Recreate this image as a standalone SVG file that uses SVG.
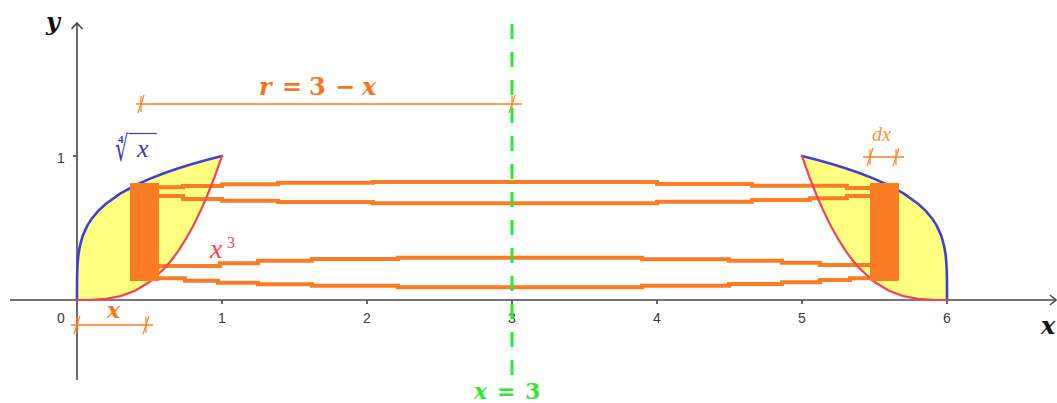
<svg xmlns="http://www.w3.org/2000/svg" xmlns:xlink="http://www.w3.org/1999/xlink" width="1057" height="403" viewBox="0 0 1057 403">
<style>
.axis{stroke:#474747;stroke-width:1.6;fill:none}
.num{font-family:"Liberation Sans",Arial,sans-serif;font-size:14px;fill:#3a3a3a;text-anchor:middle}
.blue{stroke:#4040d6;stroke-width:2.6;fill:none;stroke-linejoin:round;stroke-linecap:round}
.red{stroke:#f04454;stroke-width:2.2;fill:none;stroke-linejoin:round;stroke-linecap:round}
.fill{fill:#ffff80;stroke:none}
.band{stroke:#fb7d23;stroke-width:4;fill:none;stroke-linejoin:miter}
.rect{fill:#fb7d23}
.dim{stroke:#f7821f;stroke-width:1.4;fill:none}
.tk{stroke:#f7821f;stroke-width:1.2;fill:none}
.lbl{font-family:"DejaVu Serif","Liberation Serif",serif;font-weight:bold}
.it{font-style:italic}
.math{font-family:"Liberation Serif","Times New Roman",serif}
</style>
<defs>
<g id="tick">
<line class="tk" x1="0" y1="-8" x2="0" y2="8"/>
<line class="tk" x1="-3" y1="9" x2="3" y2="-9"/>
</g>
<g id="region">
<path class="fill" d="M77,300 L77.01,291.9 L77.01,285.6 L77.07,278.5 L77.29,269.5 L77.73,261.7 L78.45,254.5 L79.9,245.8 L82.8,235.6 L87.15,225.9 L91.5,219 L98.75,210.4 L106,203.7 L120.5,193.4 L135,185.5 L149.5,178.9 L164,173.3 L178.5,168.3 L193,163.8 L207.5,159.7 L222,156 L214.75,176.6 L207.5,195 L200.25,211.6 L193,226.3 L185.75,239.2 L178.5,250.6 L171.25,260.5 L164,268.9 L149.5,282 L135,290.8 L120.5,296.1 L106,298.85 L91.5,299.86 Z"/>
</g>
<g id="curves">
<path class="blue" d="M77,300 L77.01,291.9 L77.01,285.6 L77.07,278.5 L77.29,269.5 L77.73,261.7 L78.45,254.5 L79.9,245.8 L82.8,235.6 L87.15,225.9 L91.5,219 L98.75,210.4 L106,203.7 L120.5,193.4 L135,185.5 L149.5,178.9 L164,173.3 L178.5,168.3 L193,163.8 L207.5,159.7 L222,156"/>
<path class="red" d="M77,300 L91.5,299.86 L106,298.85 L120.5,296.1 L135,290.8 L149.5,282 L164,268.9 L171.25,260.5 L178.5,250.6 L185.75,239.2 L193,226.3 L200.25,211.6 L207.5,195 L214.75,176.6 L222,156"/>
</g>
</defs>

<g id="axes">
<line class="axis" x1="10" y1="300" x2="1056" y2="300"/>
<polyline class="axis" points="1050,295 1056,300 1050,305"/>
<line class="axis" x1="77" y1="380" x2="77" y2="23"/>
<polyline class="axis" points="71.5,29 77,23 82.5,29"/>
<line class="axis" x1="73" y1="156" x2="77" y2="156"/>
<g class="axis">
<line x1="222" y1="300" x2="222" y2="304"/>
<line x1="367" y1="300" x2="367" y2="304"/>
<line x1="512" y1="300" x2="512" y2="304"/>
<line x1="657" y1="300" x2="657" y2="304"/>
<line x1="802" y1="300" x2="802" y2="304"/>
<line x1="947" y1="300" x2="947" y2="304"/>
</g>
<text class="num" x="61" y="323">0</text>
<text class="num" x="222" y="323">1</text>
<text class="num" x="367" y="323">2</text>
<text class="num" x="512" y="323">3</text>
<text class="num" x="657" y="323">4</text>
<text class="num" x="802" y="323">5</text>
<text class="num" x="947" y="323">6</text>
<text class="num" x="61" y="163">1</text>
<text class="lbl it" x="46" y="30" font-size="24" fill="#111">y</text>
<text class="lbl it" x="1041" y="334" font-size="24" fill="#111">x</text>
</g>

<g id="left-region">
<use xlink:href="#region"/>
</g>
<g id="right-region">
<use xlink:href="#region" transform="matrix(-1 0 0 1 1024 0)"/>
</g>

<g id="connectors">
<polyline class="band" points="157,187.3 183,187.3 183,186 222,186 222,184.3 278,184.3 278,182.7 373,182.7 373,182 657,182 657,184 752,184 752,185.7 847,185.7 847,188 871,188"/>
<polyline class="band" points="157,196 183,196 183,199 222,199 222,200.7 278,200.7 278,202 373,202 373,203.3 657,203.3 657,201.7 752,201.7 752,200 810,200 810,198.3 847,198.3 847,196 871,196"/>
<polyline class="band" points="157,268 160,266 220,266 220,263.3 258,263.3 258,260.7 312,260.7 312,259 398,259 398,257.8 642,257.8 642,259.3 729,259.3 729,260.7 782,260.7 782,262.7 820,262.7 820,265 871,265"/>
<polyline class="band" points="157,278.3 185,278.3 185,280.7 218,280.7 218,282.7 258,282.7 258,284.3 312,284.3 312,285.7 398,285.7 398,287.3 642,287.3 642,285.7 729,285.7 729,284 782,284 782,282.3 820,282.3 820,280 850,280 850,278.3 871,278.3"/>
</g>

<g id="curves-left"><use xlink:href="#curves"/></g>
<g id="curves-right"><use xlink:href="#curves" transform="matrix(-1 0 0 1 1024 0)"/></g>

<g id="slice-left"><rect class="rect" x="130" y="183" width="29" height="98"/></g>
<g id="slice-right"><rect class="rect" x="870" y="183" width="29" height="98"/></g>

<g id="label-root" fill="#3a3ad0">
<text transform="translate(115,161) scale(0.6,1)" font-family="'DejaVu Sans',sans-serif" font-size="35">√</text>
<text class="math" x="118" y="143" font-size="11" font-weight="bold">4</text>
<line x1="129" y1="133.5" x2="157" y2="133.5" stroke="#3a3ad0" stroke-width="1.2"/>
<text class="math it" x="137" y="157" font-size="26">x</text>
</g>
<g id="label-cube" fill="#f04454">
<text class="math it" x="210" y="258" font-size="28">x</text>
<text class="math" x="227" y="248" font-size="16">3</text>
</g>

<g id="dim-r">
<line class="dim" x1="136" y1="104" x2="522" y2="104"/>
<use xlink:href="#tick" x="141" y="104"/>
<use xlink:href="#tick" x="512" y="104"/>
<text class="lbl" font-size="24" fill="#f7761b" y="95"><tspan class="it" x="259">r</tspan><tspan x="276 282 303 309 329 335 356"> = 3 − </tspan><tspan class="it" x="362">x</tspan></text>
</g>
<g id="dim-x">
<line class="dim" x1="71" y1="325" x2="153" y2="325"/>
<use xlink:href="#tick" x="77" y="325"/>
<use xlink:href="#tick" x="146" y="325"/>
<text class="lbl it" x="107" y="318" font-size="22" fill="#f7761b">x</text>
</g>
<g id="dim-dx">
<line class="dim" x1="863" y1="157" x2="904" y2="157"/>
<use xlink:href="#tick" x="870" y="157"/>
<use xlink:href="#tick" x="896" y="157"/>
<text class="math it" x="872" y="141" font-size="20" fill="#f29a3a">dx</text>
</g>

<g id="axis-of-rotation">
<line x1="512" y1="24" x2="512" y2="378" stroke="#2ee82e" stroke-width="3" stroke-dasharray="15 13"/>
<text class="lbl" font-size="22" fill="#2ee82e" y="399"><tspan class="it" x="474">x</tspan><tspan x="491 497 517 525"> = 3</tspan></text>
</g>
</svg>
